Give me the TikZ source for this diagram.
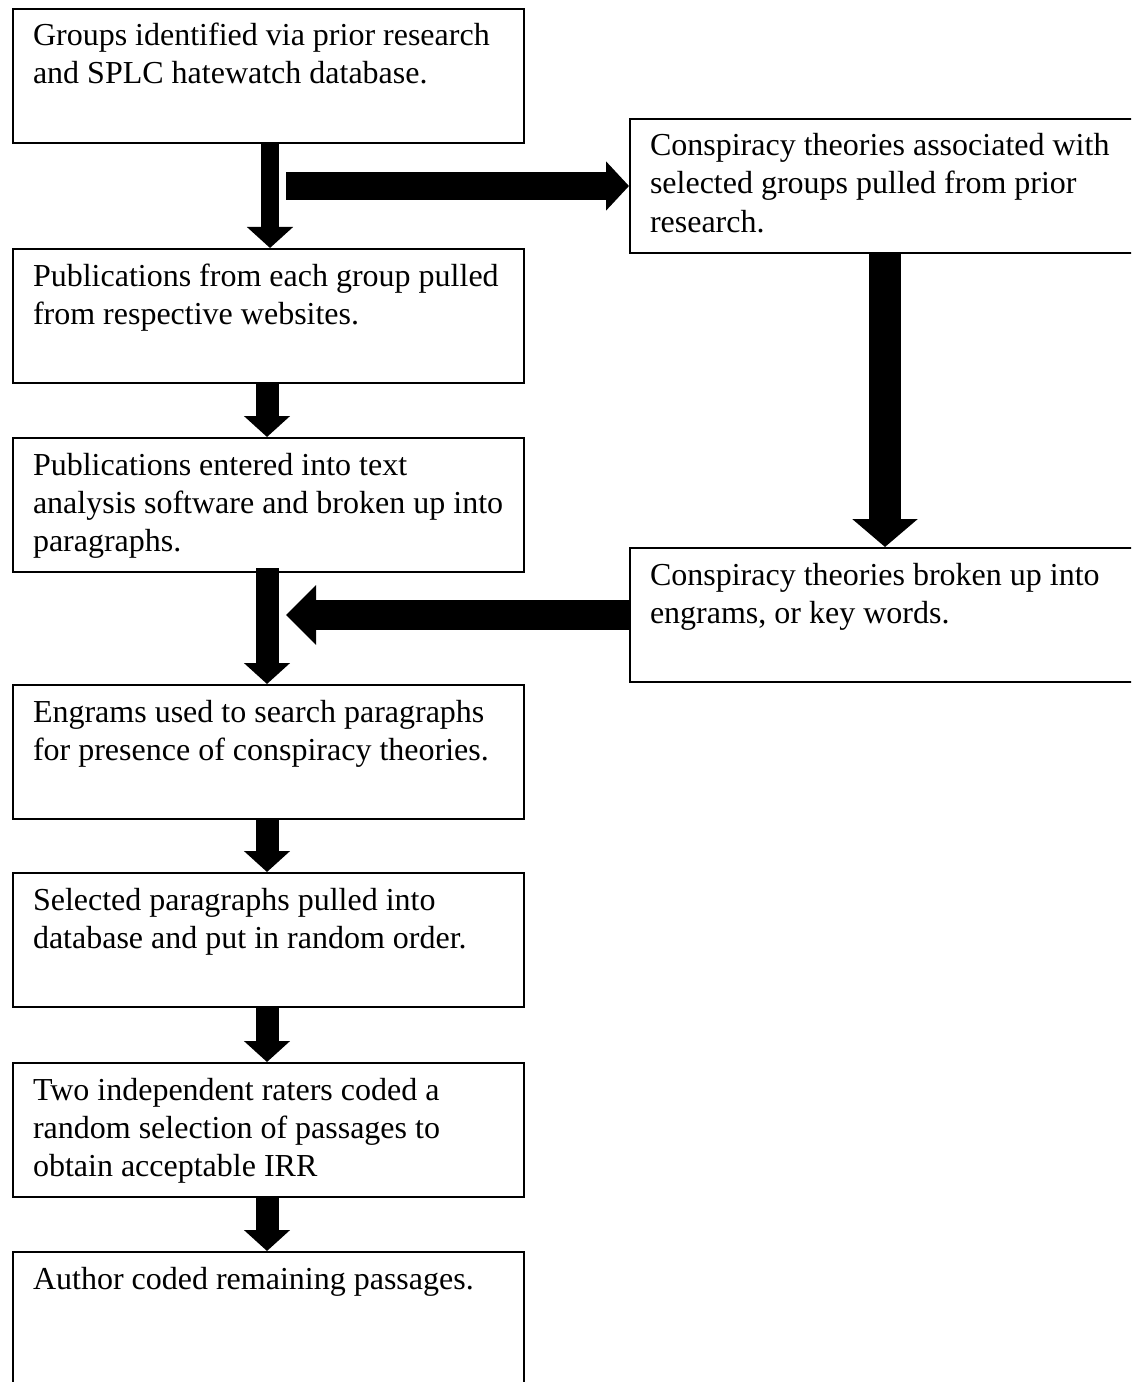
\documentclass[tikz,border=0pt]{standalone}
\usepackage{fontspec}
\setmainfont{Liberation Serif}
\usetikzlibrary{arrows.meta,calc}
\newcommand\bxt[1]{\parbox[c][134bp][t]{471bp}{\rule{0pt}{37bp}#1}}
\begin{document}
\begin{tikzpicture}[x=1bp,y=-1bp,
  box/.style={draw,line width=2bp,anchor=north west,inner xsep=20bp,inner ysep=0pt,
    font=\fontsize{32bp}{38bp}\selectfont},
  vsmall/.style={line width=18bp,-{Triangle[length=21bp,width=45bp]}},
  vmid/.style={line width=23bp,-{Triangle[length=21bp,width=45bp]}},
  vbig/.style={line width=32bp,-{Triangle[length=28bp,width=64bp]}},
  hright/.style={line width=27bp,-{Triangle[length=23bp,width=48bp]}},
  hleft/.style={line width=30bp,-{Triangle[length=30bp,width=58bp]}}]
\useasboundingbox (0,0) rectangle (1131,1382);
\clip (0,0) rectangle (1131,1382);
\node[box] (L1) at (12,8) {\bxt{\mbox{Groups identified via prior research}\\\mbox{and SPLC hatewatch database.}}};
\node[box] (R1) at (629,118) {\bxt{\mbox{Conspiracy theories associated with}\\\mbox{selected groups pulled from prior}\\\mbox{research.}}};
\node[box] (L2) at (12,248) {\bxt{\mbox{Publications from each group pulled}\\\mbox{from respective websites.}}};
\node[box] (L3) at (12,437) {\bxt{\mbox{Publications entered into text}\\\mbox{analysis software and broken up into}\\\mbox{paragraphs.}}};
\node[box] (R2) at (629,547) {\bxt{\mbox{Conspiracy theories broken up into}\\\mbox{engrams, or key words.}}};
\node[box] (L4) at (12,684) {\bxt{\mbox{Engrams used to search paragraphs}\\\mbox{for presence of conspiracy theories.}}};
\node[box] (L5) at (12,872) {\bxt{\mbox{Selected paragraphs pulled into}\\\mbox{database and put in random order.}}};
\node[box] (L6) at (12,1062) {\bxt{\mbox{Two independent raters coded a}\\\mbox{random selection of passages to}\\\mbox{obtain acceptable IRR}}};
\node[box] (L7) at (12,1251) {\bxt{\mbox{Author coded remaining passages.}}};
% arrows
\draw[vsmall] ($(L1.south west)+(258,0)$) -- ($(L2.north west)+(258,0)$);
\coordinate (hs) at ($(R1.west)-(343,0)$);
\draw[hright] (hs) -- (R1.west);
\draw[vbig] ($(R1.south west)+(256,0)$) -- ($(R2.north west)+(256,0)$);
\draw[vmid] ($(L2.south west)+(255,0)$) -- ($(L3.north west)+(255,0)$);
\coordinate (he) at ($(R2.west)-(343,0)$);
\draw[hleft] (R2.west) -- (he);
\draw[vmid] ($(L3.south west)+(255,-5)$) -- ($(L4.north west)+(255,0)$);
\draw[vmid] ($(L4.south west)+(255,0)$) -- ($(L5.north west)+(255,0)$);
\draw[vmid] ($(L5.south west)+(255,0)$) -- ($(L6.north west)+(255,0)$);
\draw[vmid] ($(L6.south west)+(255,0)$) -- ($(L7.north west)+(255,0)$);
\end{tikzpicture}
\end{document}
